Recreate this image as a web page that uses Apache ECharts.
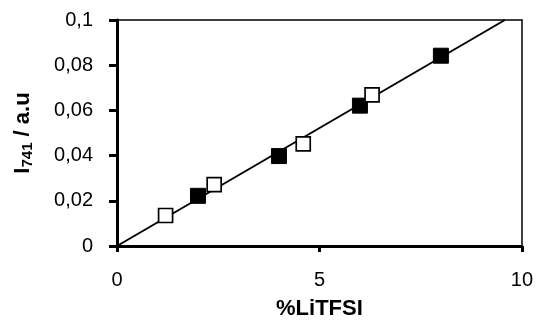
<!DOCTYPE html>
<html>
<head>
<meta charset="utf-8">
<script src="https://cdn.jsdelivr.net/npm/echarts@6/dist/echarts.min.js"></script>
<style>html,body{margin:0;padding:0;background:#fff}#c{width:536px;height:325px}</style>
</head>
<body>
<div id="c"></div>
<script>
const filledX = [2, 4, 6, 8];
const filledY = [0.0222, 0.0398, 0.0621, 0.0842];
const openX = [1.2, 2.4, 4.6, 6.3];
const openY = [0.0135, 0.0272, 0.0452, 0.0669];
const fitX = [0, 9.58];
const fitY = [0, 0.1];
const xTicks = [0, 5, 10];
const yTicks = [0, 0.02, 0.04, 0.06, 0.08, 0.1];

const font = 'Liberation Sans, Arial, sans-serif';
const chart = echarts.init(document.getElementById('c'));
const frameX = { type: 'value', min: 0, max: 10, position: 'top',
  axisLine: { show: true, onZero: false, lineStyle: { color: '#000', width: 1.5 } },
  axisTick: { show: false }, axisLabel: { show: false }, splitLine: { show: false } };
const frameY = { type: 'value', min: 0, max: 0.1, position: 'right',
  axisLine: { show: true, onZero: false, lineStyle: { color: '#000', width: 1.5 } },
  axisTick: { show: false }, axisLabel: { show: false }, splitLine: { show: false } };
chart.setOption({
  animation: false,
  grid: { left: 117, right: 13, top: 20, bottom: 76 },
  xAxis: [{
    type: 'value', min: 0, max: 10, interval: 5, position: 'bottom',
    axisLine: { show: true, onZero: false, lineStyle: { color: '#000', width: 3 } },
    axisTick: { show: true, inside: false, length: 6, lineStyle: { color: '#000', width: 3 } },
    axisLabel: { color: '#000', fontSize: 20, fontFamily: font, margin: 24,
      formatter: v => xTicks.includes(v) ? String(v) : '' },
    splitLine: { show: false },
    name: '%LiTFSI', nameLocation: 'middle', nameGap: 52,
    nameTextStyle: { color: '#000', fontSize: 22, fontWeight: 'bold', fontFamily: font }
  }, frameX],
  yAxis: [{
    type: 'value', min: 0, max: 0.1, interval: 0.02, position: 'left',
    axisLine: { show: true, onZero: false, lineStyle: { color: '#000', width: 3 } },
    axisTick: { show: true, inside: false, length: 8, lineStyle: { color: '#000', width: 3 } },
    axisLabel: { color: '#000', fontSize: 20, fontFamily: font, margin: 24,
      formatter: v => {
        const t = yTicks.find(t => Math.abs(t - v) < 1e-9);
        return t === undefined ? '' : String(+t.toFixed(2)).replace('.', ',');
      } },
    splitLine: { show: false },
    name: '{a|I}{s|741}{a| / a.u}', nameLocation: 'middle', nameGap: 82, nameRotate: 90,
    nameTextStyle: { color: '#000', fontFamily: font,
      rich: {
        a: { fontSize: 22, fontWeight: 'bold', fontFamily: font, color: '#000' },
        s: { fontSize: 15, fontWeight: 'bold', fontFamily: font, color: '#000', padding: [9, 0, 0, 0] }
      } }
  }, frameY],
  series: [
    { type: 'line', data: fitX.map((x, i) => [x, fitY[i]]), showSymbol: false, symbol: 'none',
      lineStyle: { color: '#000', width: 2 }, z: 1 },
    { type: 'scatter', data: filledX.map((x, i) => [x, filledY[i]]), symbol: 'rect', symbolSize: 15,
      itemStyle: { color: '#000', borderColor: '#000', borderWidth: 1, opacity: 1 }, z: 2 },
    { type: 'scatter', data: openX.map((x, i) => [x, openY[i]]), symbol: 'rect', symbolSize: 14,
      itemStyle: { color: '#fff', borderColor: '#000', borderWidth: 1.7, opacity: 1 }, z: 3 }
  ]
});
</script>
</body>
</html>
